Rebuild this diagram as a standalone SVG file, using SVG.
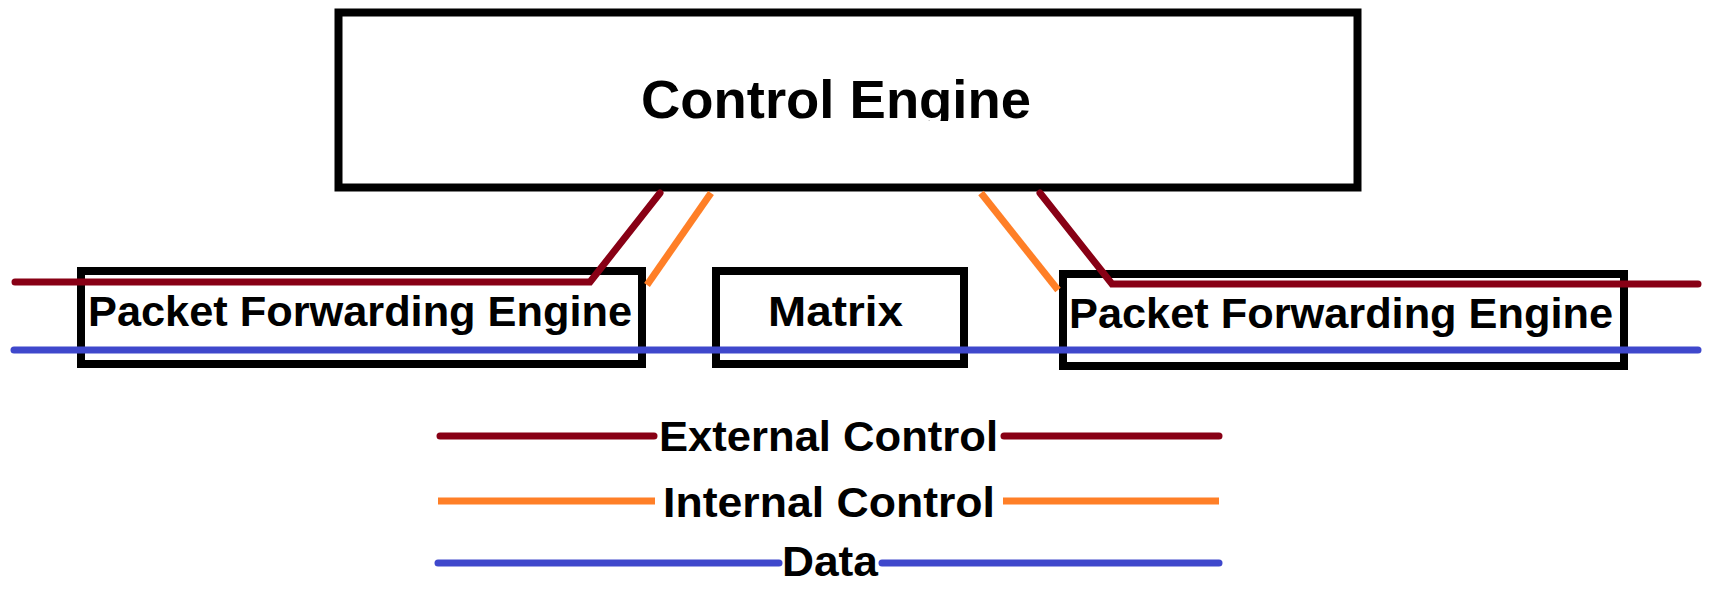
<svg xmlns="http://www.w3.org/2000/svg" width="1710" height="592" viewBox="0 0 1710 592">
  <style>
    .box { fill: #ffffff; stroke: #000000; stroke-width: 8; }
    .lbl { font-family: "Liberation Sans", Arial, sans-serif; font-weight: bold; fill: #000000; }
    .ext { fill: none; stroke: #880015; stroke-width: 7; stroke-linecap: round; stroke-linejoin: miter; }
    .int { fill: none; stroke: #ff7f27; stroke-width: 7; stroke-linecap: butt; }
    .dat { fill: none; stroke: #3f48cc; stroke-width: 7; stroke-linecap: round; }
  </style>
  <defs>
    <clipPath id="ceClip">
      <rect x="340" y="16" width="1015" height="105"/>
    </clipPath>
  </defs>
  <rect width="1710" height="592" fill="#ffffff"/>

  <g id="control-engine">
    <rect class="box" x="338.5" y="12.5" width="1019" height="175"/>
    <text class="lbl" x="641" y="118" font-size="54" textLength="390" lengthAdjust="spacingAndGlyphs" clip-path="url(#ceClip)">Control Engine</text>
  </g>

  <g id="pfe-left">
    <rect class="box" x="81" y="271" width="561" height="93"/>
    <text class="lbl" x="88" y="326" font-size="43" textLength="544" lengthAdjust="spacingAndGlyphs">Packet Forwarding Engine</text>
  </g>

  <g id="matrix">
    <rect class="box" x="716" y="271" width="248" height="93"/>
    <text class="lbl" x="768" y="326" font-size="43" textLength="135" lengthAdjust="spacingAndGlyphs">Matrix</text>
  </g>

  <g id="pfe-right">
    <rect class="box" x="1063" y="274" width="561" height="92"/>
    <text class="lbl" x="1069" y="328" font-size="43" textLength="544" lengthAdjust="spacingAndGlyphs">Packet Forwarding Engine</text>
  </g>

  <g id="connectors">
    <!-- data path across the line cards and matrix -->
    <line class="dat" x1="14" y1="350" x2="1698" y2="350"/>
    <!-- external control paths -->
    <polyline class="ext" points="15,282 590,282 660,193"/>
    <polyline class="ext" points="1040,193 1112,284 1698,284"/>
    <!-- internal control paths -->
    <line class="int" x1="647" y1="285" x2="711" y2="193"/>
    <line class="int" x1="981" y1="193" x2="1058" y2="290"/>
  </g>

  <g id="legend">
    <line class="ext" x1="440" y1="436" x2="654" y2="436"/>
    <line class="ext" x1="1004" y1="436" x2="1219" y2="436"/>
    <text class="lbl" x="659" y="451" font-size="43" textLength="339" lengthAdjust="spacingAndGlyphs">External Control</text>

    <line class="int" x1="438" y1="501" x2="655" y2="501" stroke-linecap="round"/>
    <line class="int" x1="1003" y1="501" x2="1219" y2="501"/>
    <text class="lbl" x="663" y="517" font-size="43" textLength="332" lengthAdjust="spacingAndGlyphs">Internal Control</text>

    <line class="dat" x1="438" y1="563" x2="779" y2="563"/>
    <line class="dat" x1="882" y1="563" x2="1219" y2="563"/>
    <text class="lbl" x="782" y="576" font-size="43" textLength="96" lengthAdjust="spacingAndGlyphs">Data</text>
  </g>
</svg>
